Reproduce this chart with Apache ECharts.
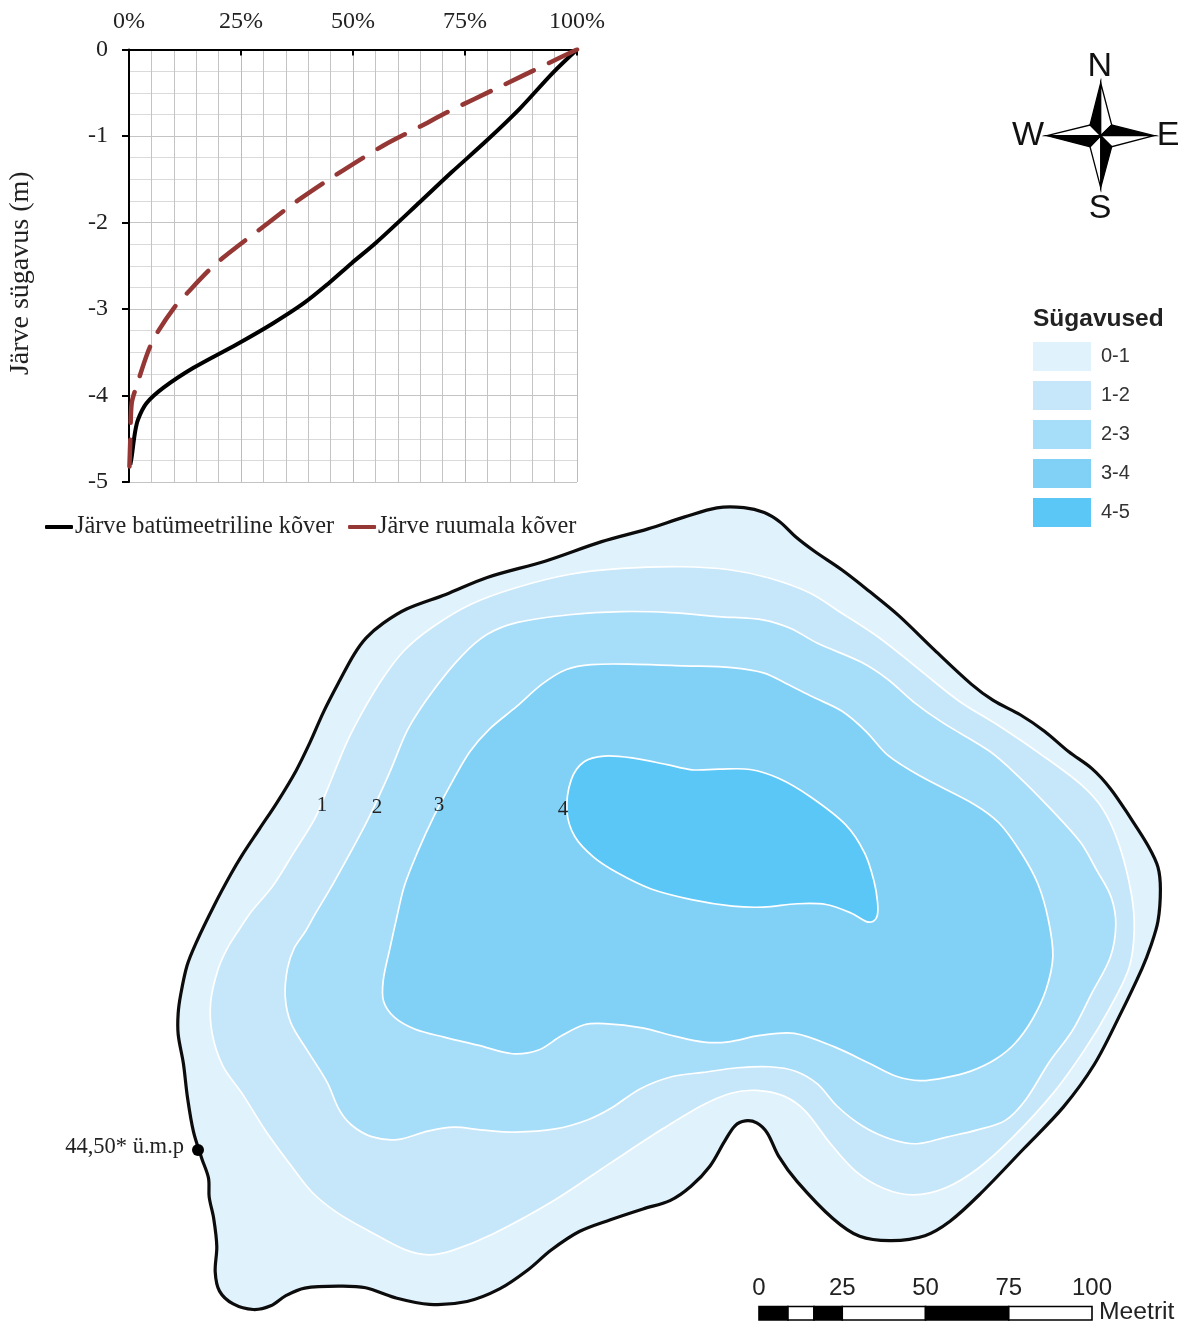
<!DOCTYPE html>
<html>
<head>
<meta charset="utf-8">
<style>html,body{margin:0;padding:0;background:#fff}#c{width:1191px;height:1321px}</style>
<script src="https://cdn.jsdelivr.net/npm/echarts@6/dist/echarts.min.js"></script>
</head>
<body>
<div id="c"></div>
<script>
// ---- hypsographic curves: [percent, depth m] ----
const pctTicks = [0, 25, 50, 75, 100];
const bathymetricCurve = [[100,0],[94.6,-0.27],[87.3,-0.68],[79.9,-1.05],[72,-1.42],[65,-1.76],[55,-2.24],[49.7,-2.47],[44.4,-2.71],[39.1,-2.93],[32,-3.17],[24,-3.41],[14.4,-3.68],[7.7,-3.91],[3.9,-4.09],[2,-4.28],[1.3,-4.44],[0.6,-4.71],[0.3,-4.8]];
const volumeCurve = [[100,0],[93.2,-0.17],[82.4,-0.44],[71.6,-0.71],[65,-0.89],[56.8,-1.11],[46.2,-1.45],[37.3,-1.76],[31.2,-2.0],[21.4,-2.39],[17.9,-2.55],[13.1,-2.81],[10.3,-2.97],[6,-3.3],[4.2,-3.5],[1.7,-3.89],[0.6,-4.09],[0.3,-4.5],[0.1,-4.82]];
const curveNames = ['Järve batümeetriline kõver', 'Järve ruumala kõver'];

// ---- lake map contours (map units) ----
const shoreline = [[194,947],[215,903],[232,872],[240,858],[260,828],[277,803],[297,770],[310,743],[323,712],[340,680],[355,652],[365,638],[383,623],[403,609],[447,595],[483,577],[547,562],[603,540],[650,529],[684,517],[718,506],[745,507],[765,512],[780,521],[795,537],[812,550],[843,570],[870,592],[897,613],[934,650],[975,688],[991,700],[1022,715],[1044,730],[1069,753],[1093,768],[1110,787],[1130,817],[1150,848],[1159,867],[1161,887],[1159,923],[1150,948],[1145,963],[1120,1015],[1095,1066],[1065,1107],[1025,1147],[978,1197],[949,1223],[927,1237],[891,1242],[858,1238],[836,1223],[793,1178],[778,1157],[767,1130],[757,1122],[745,1120],[735,1124],[725,1140],[711,1167],[691,1187],[671,1202],[644,1208],[610,1220],[579,1230],[550,1250],[529,1270],[500,1290],[468,1303],[429,1306],[393,1298],[364,1286],[346,1286],[300,1287],[286,1295],[271,1307],[254,1311],[232,1305],[218,1292],[214,1273],[218,1247],[214,1217],[208,1197],[210,1178],[202,1160],[193,1133],[187,1097],[184,1063],[177,1033],[178,1013],[180,997],[187,963]];
const contour1 = [[227,948],[239,930],[250,912],[273,888],[293,853],[317,817],[327,790],[347,740],[365,707],[383,677],[403,650],[430,628],[470,603],[513,588],[570,573],[620,568],[684,566],[731,569],[768,577],[812,592],[839,612],[880,637],[920,670],[958,702],[1002,727],[1035,750],[1086,787],[1103,807],[1120,843],[1133,897],[1135,930],[1132,967],[1109,1010],[1087,1047],[1055,1093],[1011,1140],[978,1170],[945,1190],[913,1197],[884,1190],[855,1173],[829,1143],[804,1107],[785,1095],[756,1089],[731,1092],[705,1103],[665,1127],[610,1163],[557,1200],[489,1237],[450,1252],[429,1256],[407,1252],[371,1232],[336,1213],[311,1193],[293,1168],[264,1130],[243,1093],[221,1067],[211,1033],[209,1003],[218,967]];
const contour2 = [[293,948],[307,930],[313,917],[330,890],[370,817],[390,773],[407,727],[433,690],[463,653],[487,633],[513,622],[570,614],[623,611],[670,612],[718,617],[768,619],[792,628],[812,642],[866,663],[887,678],[914,703],[937,720],[995,753],[1015,773],[1052,810],[1083,843],[1096,870],[1113,897],[1117,923],[1113,957],[1091,993],[1073,1033],[1049,1060],[1025,1103],[1007,1122],[978,1130],[945,1137],[916,1146],[891,1140],[862,1127],[836,1107],[818,1082],[796,1070],[771,1066],[738,1067],[702,1073],[673,1075],[640,1087],[610,1110],[589,1120],[557,1130],[514,1133],[479,1130],[454,1126],[429,1130],[396,1142],[371,1138],[350,1125],[339,1112],[329,1083],[307,1050],[289,1023],[284,997],[287,967]];
const contour3 = [[390,948],[397,917],[403,887],[417,853],[433,817],[453,780],[470,750],[487,730],[517,707],[543,682],[567,668],[587,664],[637,664],[684,666],[735,667],[765,672],[785,683],[812,697],[843,710],[866,730],[887,757],[917,775],[981,807],[998,820],[1022,853],[1039,883],[1049,920],[1055,957],[1047,990],[1033,1020],[1015,1045],[996,1060],[971,1072],[945,1078],[920,1082],[895,1077],[873,1065],[836,1047],[793,1030],[760,1035],[727,1043],[705,1043],[676,1037],[644,1027],[600,1023],[586,1023],[561,1035],[539,1052],[514,1056],[479,1045],[443,1037],[414,1030],[393,1018],[382,1002],[382,983]];
const contour4 = [[565,813],[570,777],[583,760],[603,755],[630,757],[670,765],[691,771],[718,769],[751,768],[778,777],[809,795],[849,825],[866,853],[875,883],[878,903],[878,917],[873,922],[867,923],[853,913],[826,903],[799,903],[762,908],[735,907],[691,900],[650,890],[617,873],[593,858],[573,837]];
const depthClasses = ['0-1', '1-2', '2-3', '3-4', '4-5'];
const depthColors = ['#E0F2FC', '#C6E7FA', '#A6DDF8', '#81D1F7', '#5AC7F6'];
const contourLabels = [['1',322,805],['2',377,807],['3',439,805],['4',563,809]];
const levelPoint = [198,1150];
const levelLabel = '44,50* ü.m.p';

// ---- scale bar (metres) ----
const scaleBreaks = [0, 8.7, 16.5, 25, 50, 75, 100];
const scaleUnit = 'Meetrit';

// ---- compass ----
const compassCentre = [1100.7,135.7];
const compassTips = {N:[1100.7,83], E:[1154,135.7], S:[1100.7,187.7], W:[1047,135.7]};
const compassCorners = {NE:[1111.7,125], SE:[1111.7,146.7], SW:[1090,146.7], NW:[1090,125]};

const SERIF = '"Liberation Serif","Times New Roman",serif';
const SANS = '"Liberation Sans",Arial,sans-serif';

// pencil-like easing of hand-read outlines, applied only when stroking the path
function ease(pts) {
  const n = pts.length;
  return pts.map((p, i) => {
    const a = pts[(i - 1 + n) % n], b = pts[(i + 1) % n];
    return [0.15 * a[0] + 0.7 * p[0] + 0.15 * b[0], 0.15 * a[1] + 0.7 * p[1] + 0.15 * b[1]];
  });
}

const areas = [shoreline, contour1, contour2, contour3, contour4];
const areaSeries = areas.map((pts, i) => ({
  type: 'custom', name: depthClasses[i], xAxisIndex: 1, yAxisIndex: 1, silent: true, z: 1 + i / 10,
  color: depthColors[i], data: pts, clip: false, encode: {x: 0, y: 1},
  renderItem: (p, api) => p.dataIndex !== 0 ? null : {
    type: 'polygon',
    shape: {points: ease(pts).map(q => api.coord(q)), smooth: 0.33},
    style: {fill: depthColors[i], stroke: i === 0 ? '#0c0c0c' : '#ffffff', lineWidth: i === 0 ? 3.2 : 1.7, lineJoin: 'round'}
  }
}));

const c = compassCentre, T = compassTips, K = compassCorners;
const compassParts = [
  [T.N, K.NW, c, 1],[T.N, K.NE, c, 0],
  [T.E, K.NE, c, 1],[T.E, K.SE, c, 0],
  [T.S, K.SE, c, 1],[T.S, K.SW, c, 0],
  [T.W, K.SW, c, 1],[T.W, K.NW, c, 0]
];

const option = {
  animation: false,
  backgroundColor: '#ffffff',
  title: [{text: 'Sügavused', left: 1033, top: 307, padding: 0, textStyle: {fontFamily: SANS, fontSize: 24.5, fontWeight: 'bold', color: '#222'}}],
  graphic: [{type: 'text', x: 1099, y: 1312, silent: true, style: {text: scaleUnit, fontFamily: SANS, fontSize: 24.7, fill: '#222', verticalAlign: 'middle', align: 'left'}}],
  grid: [
    {left: 129, top: 49.5, width: 448, height: 432.5},
    {left: 0, top: 0, width: 1191, height: 1321},
    {left: 759, top: 1306.5, width: 333, height: 13.5}
  ],
  xAxis: [
    {type: 'value', gridIndex: 0, position: 'top', min: 0, max: 100, interval: 25,
     axisLine: {onZero: false, lineStyle: {color: '#000', width: 2}},
     axisTick: {inside: true, length: 6, lineStyle: {color: '#000', width: 2}},
     axisLabel: {formatter: v => v + '%', fontFamily: SERIF, fontSize: 24, color: '#222', margin: 16},
     splitLine: {show: true, lineStyle: {color: '#bcbcbc', width: 1}},
     minorTick: {show: false, splitNumber: 5},
     minorSplitLine: {show: true, lineStyle: {color: '#c4c4c4', width: 1}}},
    {type: 'value', gridIndex: 1, min: 0, max: 1191, show: false},
    {type: 'value', gridIndex: 2, position: 'top', min: 0, max: 100, interval: 25,
     axisLine: {show: false}, axisTick: {show: false}, splitLine: {show: false},
     axisLabel: {fontFamily: SANS, fontSize: 24, color: '#222', margin: 6, showMinLabel: true, showMaxLabel: true}}
  ],
  yAxis: [
    {type: 'value', gridIndex: 0, min: -5, max: 0, interval: 1,
     name: 'Järve sügavus (m)', nameLocation: 'middle', nameRotate: 90, nameGap: 94,
     nameTextStyle: {fontFamily: SERIF, fontSize: 28, color: '#222', padding: [0, 15, 0, 0]},
     axisLine: {onZero: false, lineStyle: {color: '#000', width: 2}},
     axisTick: {length: 7, lineStyle: {color: '#000', width: 2}},
     axisLabel: {fontFamily: SERIF, fontSize: 24, color: '#222', margin: 21},
     splitLine: {show: true, lineStyle: {color: '#c4c4c4', width: 1}},
     minorTick: {show: false, splitNumber: 4},
     minorSplitLine: {show: true, lineStyle: {color: '#dadada', width: 1}}},
    {type: 'value', gridIndex: 1, min: 0, max: 1321, inverse: true, show: false},
    {type: 'value', gridIndex: 2, min: 0, max: 1, show: false}
  ],
  legend: [
    {left: 45, top: 515, padding: 0, itemWidth: 28, itemHeight: 4, itemGap: 14, icon: 'roundRect', selectedMode: false,
     textStyle: {fontFamily: SERIF, fontSize: 24.3, color: '#222', padding: [0, 0, 0, -3]},
     data: curveNames},
    {left: 1033, top: 342, padding: 0, orient: 'vertical', itemWidth: 58, itemHeight: 29, itemGap: 10, selectedMode: false,
     textStyle: {fontFamily: SANS, fontSize: 20, color: '#333', padding: [2, 0, 0, 5]},
     data: depthClasses.map((n, i) => ({name: n, icon: 'rect', itemStyle: {color: depthColors[i], borderWidth: 0}}))}
  ],
  series: [
    ...areaSeries,
    {type: 'line', name: curveNames[0], xAxisIndex: 0, yAxisIndex: 0, data: bathymetricCurve, smooth: 0.3, showSymbol: false, symbol: 'none', z: 5,
     color: '#000000', lineStyle: {color: '#000000', width: 4}, itemStyle: {color: '#000000'}},
    {type: 'line', name: curveNames[1], xAxisIndex: 0, yAxisIndex: 0, data: volumeCurve, smooth: 0.3, showSymbol: false, symbol: 'none', z: 6,
     color: '#953735', lineStyle: {color: '#953735', width: 4.5, cap: 'round', type: [31, 17]}, itemStyle: {color: '#953735'}},
    // contour numbers
    {type: 'scatter', name: 'contour-labels', xAxisIndex: 1, yAxisIndex: 1, symbolSize: 0, silent: true, z: 8, itemStyle: {opacity: 1},
     data: contourLabels.map(d => ({value: [d[1], d[2]], label: {formatter: d[0]}})),
     label: {show: true, position: 'inside', fontFamily: SERIF, fontSize: 21, color: '#222'}},
    // water-level point
    {type: 'scatter', name: 'level', xAxisIndex: 1, yAxisIndex: 1, symbolSize: 12, silent: true, z: 8,
     itemStyle: {color: '#000', opacity: 1}, data: [levelPoint],
     label: {show: true, position: 'left', distance: 8, offset: [0, -3], formatter: levelLabel, fontFamily: SERIF, fontSize: 22.5, color: '#222'}},
    // scale bar
    {type: 'custom', name: 'scale', xAxisIndex: 2, yAxisIndex: 2, silent: true, z: 8, clip: false,
     data: scaleBreaks.slice(0, -1).map((b, i) => [b, scaleBreaks[i + 1], i % 2]),
     renderItem: (p, api) => {
       const a = api.coord([api.value(0), 1]), b = api.coord([api.value(1), 0]);
       return {type: 'rect', shape: {x: a[0], y: a[1], width: b[0] - a[0], height: b[1] - a[1]},
         style: {fill: api.value(2) ? '#ffffff' : '#000000', stroke: '#000', lineWidth: 1.6}};
     }},
    // compass
    {type: 'custom', name: 'compass', xAxisIndex: 1, yAxisIndex: 1, silent: true, z: 8, clip: false,
     data: compassParts.map((_, i) => [c[0], c[1], i]),
     renderItem: (p, api) => {
       const part = compassParts[p.dataIndex];
       return {type: 'polygon', shape: {points: part.slice(0, 3).map(q => api.coord(q))},
         style: {fill: part[3] ? '#000' : '#fff', stroke: '#000', lineWidth: 1.3, lineJoin: 'miter'}};
     }},
    {type: 'scatter', name: 'compass-letters', xAxisIndex: 1, yAxisIndex: 1, symbolSize: 0, silent: true, z: 8, itemStyle: {opacity: 1},
     data: [['N',1099.7,67],['E',1168,135.5],['S',1100,209],['W',1028,135.5]].map(d => ({value: [d[1], d[2]], label: {formatter: d[0]}})),
     label: {show: true, position: 'inside', fontFamily: SANS, fontSize: 34, color: '#111'}}
  ]
};
const chart = echarts.init(document.getElementById('c'), null, {renderer: 'canvas', width: 1191, height: 1321});
chart.setOption(option);
</script>
</body>
</html>
